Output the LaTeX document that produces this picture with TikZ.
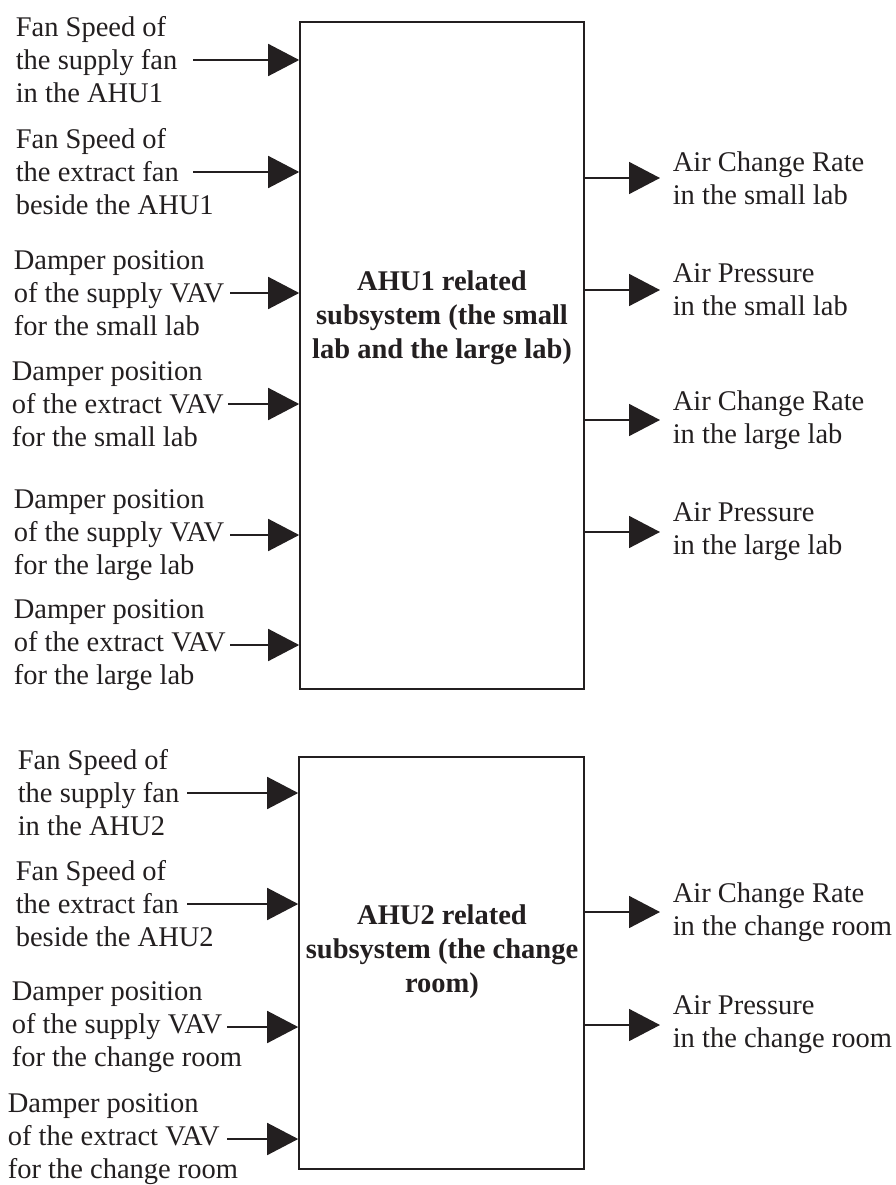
\documentclass[tikz,border=0pt]{standalone}
\usepackage{fontspec}
\setmainfont{Liberation Serif}
\usetikzlibrary{arrows.meta}
\definecolor{ink}{RGB}{35,31,32}

\begin{document}
\begin{tikzpicture}
  [x=1pt,y=-1pt,line width=1.6pt,
   every node/.style={inner sep=0pt,text=ink,font=\fontsize{28.5}{33}\selectfont},
   lbl/.style={anchor=west,align=left},
   sysbox/.style={draw=ink,line width=1.6pt},
   systext/.style={align=center,font=\fontsize{28.5}{34}\selectfont\bfseries},
   arr/.style={draw=ink,-{Triangle[length=31pt,width=32pt]}}]
  \useasboundingbox (0,0) rectangle (895,1185);

  % the two subsystems
  \node[sysbox,minimum width=284pt,minimum height=667pt] (sys1) at (442,355.5) {};
  \node[systext] (t1) at (442,318) {AHU1 related\\subsystem (the small\\lab and the large lab)};
  \node[sysbox,minimum width=285pt,minimum height=412pt] (sys2) at (441.5,963) {};
  \node[systext] (t2) at (442,952) {AHU2 related\\subsystem (the change\\room)};

  % inputs of AHU1
  \foreach \n/\lx/\sx/\y/\txt in {
      1/15/193/60/{Fan Speed of\\the supply fan\\in the AHU1},
      2/15/193/172/{Fan Speed of\\the extract fan\\beside the AHU1},
      3/13/230/293/{Damper position\\of the supply VAV\\for the small lab},
      4/11/228/404/{Damper position\\of the extract VAV\\for the small lab},
      5/13/230/535/{Damper position\\of the supply VAV\\for the large lab},
      6/13/230/645/{Damper position\\of the extract VAV\\for the large lab}}
  {
    \node[lbl] (a\n) at (\lx,\y) {\txt};
    \coordinate (as\n) at (\sx,\y);
    \draw[arr] (as\n) -- (as\n -| sys1.west);
  }

  % inputs of AHU2
  \foreach \n/\lx/\sx/\y/\txt in {
      1/17/187/793/{Fan Speed of\\the supply fan\\in the AHU2},
      2/15/187/904/{Fan Speed of\\the extract fan\\beside the AHU2},
      3/11/227/1027/{Damper position\\of the supply VAV\\for the change room},
      4/7/227/1139/{Damper position\\of the extract VAV\\for the change room}}
  {
    \node[lbl] (b\n) at (\lx,\y) {\txt};
    \coordinate (bs\n) at (\sx,\y);
    \draw[arr] (bs\n) -- (bs\n -| sys2.west);
  }

  % outputs
  \foreach \s/\n/\y/\txt in {
      1/1/178/{Air Change Rate\\in the small lab},
      1/2/290/{Air Pressure\\in the small lab},
      1/3/420/{Air Change Rate\\in the large lab},
      1/4/532/{Air Pressure\\in the large lab},
      2/5/912/{Air Change Rate\\in the change room},
      2/6/1025/{Air Pressure\\in the change room}}
  {
    \node[lbl] (o\n) at (672,\y) {\txt};
    \coordinate (oe\n) at (660,\y);
    \draw[arr] (oe\n -| sys\s.east) -- (oe\n);
  }
\end{tikzpicture}
\end{document}
